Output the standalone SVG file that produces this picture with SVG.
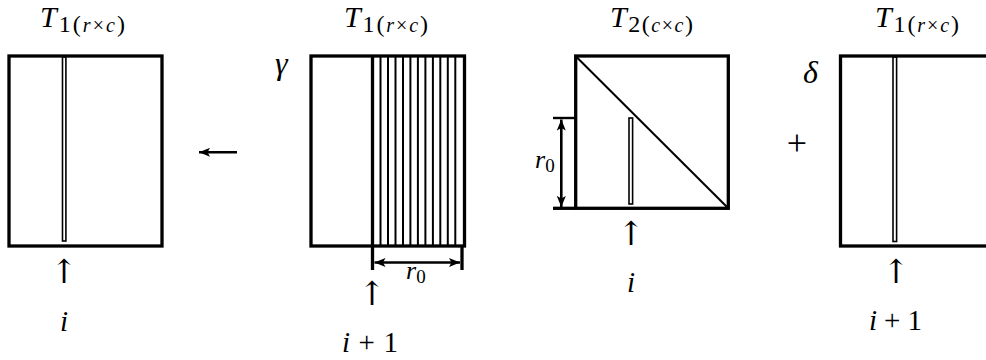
<svg xmlns="http://www.w3.org/2000/svg" width="986" height="360" viewBox="0 0 986 360">
<style>
.box{fill:none;stroke:#000;stroke-width:3.3}
.col{fill:none;stroke:#000;stroke-width:1.6}
.thin{stroke:#000;stroke-width:2}
.dim{stroke:#000;stroke-width:2.6;fill:none}
text{font-family:"Liberation Serif","Times New Roman",serif;fill:#000}
.it{font-style:italic}
.up{font-family:"DejaVu Serif",serif;font-size:33px;text-anchor:middle}
.lbl{font-size:29px}
.ttl{font-size:30px}
</style>
<defs>
<marker id="ah" viewBox="0 0 11 9" refX="11" refY="4.5" markerWidth="11" markerHeight="9" markerUnits="userSpaceOnUse" orient="auto-start-reverse">
<path d="M0,0 L11,4.5 L0,9 L2.5,4.5 z" fill="#000"/>
</marker>
</defs>
<rect width="986" height="360" fill="#fff"/>

<g id="panel1">
<text class="ttl" x="40" y="27" textLength="85" lengthAdjust="spacing"><tspan class="it">T</tspan><tspan font-size="24" dy="5">1(</tspan><tspan class="it" font-size="20">r</tspan><tspan font-size="20">×</tspan><tspan class="it" font-size="20">c</tspan><tspan font-size="24">)</tspan></text>
<rect class="box" x="9" y="56" width="153" height="190"/>
<rect class="col" x="62.5" y="57" width="3.4" height="184"/>
<text class="up" x="64" y="283">↑</text>
<text class="it lbl" x="64" y="331" text-anchor="middle">i</text>
</g>

<g id="panel2">
<text class="ttl" x="344" y="27" textLength="84" lengthAdjust="spacing"><tspan class="it">T</tspan><tspan font-size="24" dy="5">1(</tspan><tspan class="it" font-size="20">r</tspan><tspan font-size="20">×</tspan><tspan class="it" font-size="20">c</tspan><tspan font-size="24">)</tspan></text>
<text class="it" x="275" y="74" font-size="32">γ</text>
<rect class="box" x="311" y="56" width="153.5" height="190"/>
<line x1="372.5" y1="56" x2="372.5" y2="270" stroke="#000" stroke-width="3.3"/>
<g class="thin">
<line x1="380.5" y1="56" x2="380.5" y2="247"/>
<line x1="388" y1="56" x2="388" y2="247"/>
<line x1="395.5" y1="56" x2="395.5" y2="247"/>
<line x1="403" y1="56" x2="403" y2="247"/>
<line x1="410.4" y1="56" x2="410.4" y2="247"/>
<line x1="417.9" y1="56" x2="417.9" y2="247"/>
<line x1="425.4" y1="56" x2="425.4" y2="247"/>
<line x1="432.9" y1="56" x2="432.9" y2="247"/>
<line x1="440.3" y1="56" x2="440.3" y2="247"/>
<line x1="447.8" y1="56" x2="447.8" y2="247"/>
<line x1="455.3" y1="56" x2="455.3" y2="247"/>
</g>
<line x1="462" y1="246" x2="462" y2="270" stroke="#000" stroke-width="3.3"/>
<line class="dim" x1="374.5" y1="262.5" x2="460" y2="262.5" marker-start="url(#ah)" marker-end="url(#ah)"/>
<text x="406" y="279"><tspan class="it" font-size="26">r</tspan><tspan font-size="19" dy="4">0</tspan></text>
<text class="up" x="372" y="305">↑</text>
<text class="lbl" x="342" y="352" textLength="56" lengthAdjust="spacing"><tspan class="it">i</tspan> + 1</text>
</g>

<g id="panel3">
<text class="ttl" x="610" y="27" textLength="83" lengthAdjust="spacing"><tspan class="it">T</tspan><tspan font-size="24" dy="5">2(</tspan><tspan class="it" font-size="20">c</tspan><tspan font-size="20">×</tspan><tspan class="it" font-size="20">c</tspan><tspan font-size="24">)</tspan></text>
<rect class="box" x="575.7" y="56" width="152.6" height="152.3"/>
<line x1="576" y1="56.5" x2="727.5" y2="207.5" stroke="#000" stroke-width="2"/>
<rect class="col" x="629" y="118" width="3.6" height="86"/>
<line x1="553" y1="118" x2="575" y2="118" stroke="#000" stroke-width="2.4"/>
<line x1="553" y1="208.3" x2="575" y2="208.3" stroke="#000" stroke-width="3.3"/>
<line class="dim" x1="561.3" y1="119.5" x2="561.3" y2="207" marker-start="url(#ah)" marker-end="url(#ah)"/>
<text x="535" y="168"><tspan class="it" font-size="26">r</tspan><tspan font-size="19" dy="4">0</tspan></text>
<text class="up" x="631" y="245">↑</text>
<text class="it lbl" x="631" y="292" text-anchor="middle">i</text>
</g>

<g id="panel4">
<text class="ttl" x="875" y="27" textLength="84" lengthAdjust="spacing"><tspan class="it">T</tspan><tspan font-size="24" dy="5">1(</tspan><tspan class="it" font-size="20">r</tspan><tspan font-size="20">×</tspan><tspan class="it" font-size="20">c</tspan><tspan font-size="24">)</tspan></text>
<text class="it" x="803" y="83" font-size="32">δ</text>
<text x="797" y="155" font-size="36" text-anchor="middle">+</text>
<rect class="box" x="840.5" y="56" width="200" height="190"/>
<rect class="col" x="893" y="57" width="3.6" height="184.5"/>
<text class="up" x="896" y="283">↑</text>
<text class="lbl" x="869" y="330" textLength="53" lengthAdjust="spacing"><tspan class="it">i</tspan> + 1</text>
</g>

<g id="connectors">
<line class="dim" x1="237" y1="152.3" x2="199" y2="152.3" marker-end="url(#ah)"/>
</g>
</svg>
